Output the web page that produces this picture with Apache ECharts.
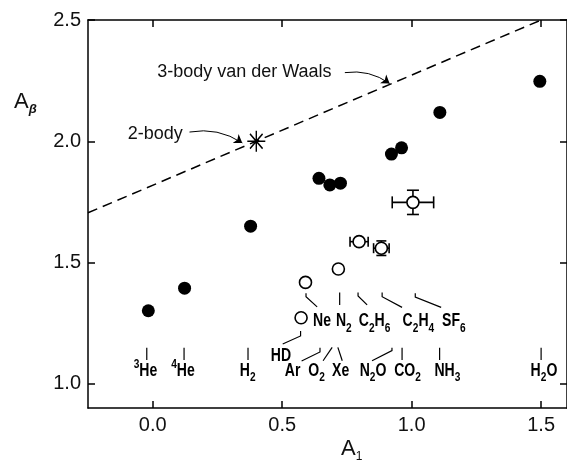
<!DOCTYPE html>
<html>
<head>
<meta charset="utf-8">
<script src="https://cdn.jsdelivr.net/npm/echarts@6/dist/echarts.min.js"></script>
<style>
html, body { margin: 0; padding: 0; background: #fff; }
#chart { width: 567px; height: 460px; }
</style>
</head>
<body>
<div id="chart"></div>
<script>
const xTicks = [0, 0.5, 1.0, 1.5];
const yTicks = [1.0, 1.5, 2.0, 2.5];

// filled points [A1, Abeta]
const filledPts = [
    [-0.017, 1.301], [0.123, 1.394], [0.378, 1.650], [0.642, 1.847], [0.684, 1.820],
    [0.725, 1.827], [0.922, 1.947], [0.961, 1.973], [1.109, 2.119], [1.495, 2.247]
];
// open points
const openPts = [
    [0.573, 1.272], [0.590, 1.418], [0.717, 1.473], [0.797, 1.586], [0.883, 1.559], [1.005, 1.748]
];
// error bars [A1, Abeta, errA1, errAbeta]
const errBars = [
    [0.797, 1.586, 0.035, 0], [0.883, 1.559, 0.03, 0.03], [1.005, 1.748, 0.08, 0.05]
];
const twoBody = [[0.4, 2.0]];
const vdwLine = [[-0.25, 1.705], [1.5, 2.5]];

// molecule labels [text, A1, Abeta]
const molLabels = [
    ['Ne', 0.654, 1.257], ['N{s|2}', 0.738, 1.257], ['C{s|2}H{s|6}', 0.857, 1.257],
    ['C{s|2}H{s|4}', 1.026, 1.257], ['SF{s|6}', 1.163, 1.257],
    ['HD', 0.495, 1.114],
    ['{p|3}He', -0.028, 1.053], ['{p|4}He', 0.117, 1.053], ['H{s|2}', 0.367, 1.053],
    ['Ar', 0.540, 1.053], ['O{s|2}', 0.633, 1.053], ['Xe', 0.726, 1.053],
    ['N{s|2}O', 0.851, 1.053], ['CO{s|2}', 0.984, 1.053], ['NH{s|3}', 1.138, 1.053],
    ['H{s|2}O', 1.511, 1.053]
];
// leader lines from labels
const leaders = [
    [[-0.023, 1.148], [-0.023, 1.098]],
    [[0.121, 1.148], [0.121, 1.098]],
    [[0.368, 1.148], [0.368, 1.098]],
    [[0.963, 1.148], [0.963, 1.098]],
    [[1.108, 1.148], [1.108, 1.098]],
    [[1.500, 1.148], [1.500, 1.098]],
    [[0.924, 1.148], [0.924, 1.137], [0.847, 1.095]],
    [[0.715, 1.150], [0.732, 1.095]],
    [[0.693, 1.150], [0.658, 1.095]],
    [[0.646, 1.148], [0.646, 1.131], [0.575, 1.094]],
    [[0.571, 1.218], [0.571, 1.197], [0.502, 1.164]],
    [[0.592, 1.373], [0.592, 1.359], [0.635, 1.317]],
    [[0.722, 1.376], [0.722, 1.325]],
    [[0.793, 1.376], [0.793, 1.362], [0.828, 1.325]],
    [[0.886, 1.376], [0.886, 1.359], [0.963, 1.315]],
    [[1.014, 1.373], [1.014, 1.357], [1.114, 1.315]]
];
const notes = [['3-body van der Waals', 0.354, 2.286], ['2-body', 0.010, 2.030]];
const arrows = [
    [[0.142, 2.038], [0.346, 1.993]],
    [[0.742, 2.283], [0.915, 2.238]]
];

const chart = echarts.init(document.getElementById('chart'));

const numFont = '"Liberation Sans", Arial, sans-serif';

function xAxisOpt(pos, showLabel) {
    return {
        type: 'value', position: pos, min: -0.25, max: 1.6,
        axisLine: { show: true, onZero: false, lineStyle: { color: '#000', width: 1.5 } },
        axisTick: { show: true, inside: true, length: 7, customValues: xTicks, lineStyle: { color: '#000', width: 1.5 } },
        axisLabel: {
            show: showLabel, customValues: xTicks, margin: 7, fontSize: 20, color: '#111',
            fontFamily: numFont, formatter: v => v.toFixed(1)
        },
        splitLine: { show: false }
    };
}
function yAxisOpt(pos, showLabel) {
    return {
        type: 'value', position: pos, min: 0.9, max: 2.5,
        axisLine: { show: true, onZero: false, lineStyle: { color: '#000', width: 1.5 } },
        axisTick: { show: true, inside: true, length: 7, customValues: yTicks, lineStyle: { color: '#000', width: 1.5 } },
        axisLabel: {
            show: showLabel, customValues: yTicks, margin: 7, fontSize: 20, color: '#111',
            fontFamily: numFont, formatter: v => v.toFixed(1)
        },
        splitLine: { show: false }
    };
}

// chữ nhãn phân tử: nén ngang cho giống font condensed
function renderMolLabel(params, api) {
    const c = api.coord([api.value(0), api.value(1)]);
    return {
        type: 'text', x: c[0], y: c[1], scaleX: 0.78, silent: true,
        style: {
            text: molLabels[params.dataIndex][0],
            fontSize: 18, fontWeight: 'bold', fontFamily: numFont, fill: '#000',
            align: 'center', verticalAlign: 'middle',
            rich: {
                s: { fontSize: 13, fontWeight: 'bold', fontFamily: numFont, fill: '#000', padding: [14, 0, 0, 0] },
                p: { fontSize: 13, fontWeight: 'bold', fontFamily: numFont, fill: '#000', padding: [0, 0, 12, 0] }
            }
        }
    };
}

const option = {
    animation: false,
    backgroundColor: '#fff',
    grid: { left: 88, top: 20, width: 481, height: 388, containLabel: false },
    xAxis: [xAxisOpt('bottom', true), xAxisOpt('top', false)],
    yAxis: [yAxisOpt('left', true), yAxisOpt('right', false)],
    graphic: [
        {
            type: 'text', left: 14, top: 91,
            style: {
                text: 'A{b|β}', fontSize: 22, fontFamily: numFont, fill: '#111',
                rich: { b: { fontSize: 13, fontWeight: 'bold', fontStyle: 'italic', fontFamily: numFont, padding: [14, 0, 0, 0] } }
            }
        },
        {
            type: 'text', left: 341, top: 438,
            style: {
                text: 'A{s|1}', fontSize: 22, fontFamily: numFont, fill: '#111',
                rich: { s: { fontSize: 12, fontFamily: numFont, padding: [16, 0, 0, 0] } }
            }
        }
    ],
    series: [
        {
            type: 'line', data: vdwLine, symbol: 'none', silent: true,
            lineStyle: { color: '#000', width: 1.5, type: [10, 6] }, z: 2
        },
        {
            type: 'lines', coordinateSystem: 'cartesian2d', polyline: true, silent: true,
            data: leaders.map(c => ({ coords: c })),
            lineStyle: { color: '#000', width: 1.2, opacity: 1 }, z: 2
        },
        {
            type: 'lines', coordinateSystem: 'cartesian2d', silent: true,
            symbol: ['none', 'arrow'], symbolSize: 8,
            data: arrows.map(c => ({ coords: c })),
            lineStyle: { color: '#000', width: 1, curveness: 0.2, opacity: 1 }, z: 3
        },
        {
            type: 'custom', data: errBars, silent: true, z: 3,
            renderItem: function (params, api) {
                const x = api.value(0), y = api.value(1), ex = api.value(2), ey = api.value(3);
                const st = { stroke: '#000', lineWidth: 1.6 };
                const kids = [];
                const cap = ex > 0.05 ? 6 : 5;
                if (ex > 0) {
                    const l = api.coord([x - ex, y]), r = api.coord([x + ex, y]);
                    kids.push({ type: 'line', shape: { x1: l[0], y1: l[1], x2: r[0], y2: r[1] }, style: st });
                    kids.push({ type: 'line', shape: { x1: l[0], y1: l[1] - cap, x2: l[0], y2: l[1] + cap }, style: st });
                    kids.push({ type: 'line', shape: { x1: r[0], y1: r[1] - cap, x2: r[0], y2: r[1] + cap }, style: st });
                }
                if (ey > 0) {
                    const t = api.coord([x, y + ey]), b = api.coord([x, y - ey]);
                    kids.push({ type: 'line', shape: { x1: t[0], y1: t[1], x2: b[0], y2: b[1] }, style: st });
                    kids.push({ type: 'line', shape: { x1: t[0] - cap, y1: t[1], x2: t[0] + cap, y2: t[1] }, style: st });
                    kids.push({ type: 'line', shape: { x1: b[0] - cap, y1: b[1], x2: b[0] + cap, y2: b[1] }, style: st });
                }
                return { type: 'group', children: kids };
            }
        },
        {
            type: 'scatter', data: filledPts, symbol: 'circle', symbolSize: 13, silent: true,
            itemStyle: { color: '#000', opacity: 1 }, z: 4
        },
        {
            type: 'scatter', data: openPts, symbol: 'circle', symbolSize: 12, silent: true,
            itemStyle: { color: '#fff', borderColor: '#000', borderWidth: 1.6, opacity: 1 }, z: 5
        },
        {
            type: 'scatter', data: twoBody, silent: true,
            symbol: 'path://M0,-10L0,10M-10,0L10,0M-7,-7L7,7M-7,7L7,-7',
            symbolSize: [18, 21],
            itemStyle: { color: 'none', borderColor: '#000', borderWidth: 1.5, opacity: 1 }, z: 5
        },
        {
            type: 'custom', silent: true, z: 6,
            data: molLabels.map(d => [d[1], d[2]]),
            renderItem: renderMolLabel
        },
        {
            type: 'scatter', silent: true, symbolSize: 1, itemStyle: { color: 'transparent', opacity: 1 }, z: 6,
            data: notes.map(d => ({ name: d[0], value: [d[1], d[2]] })),
            label: {
                show: true, position: 'inside', formatter: p => p.name,
                fontSize: 18, fontFamily: numFont, color: '#111'
            }
        }
    ]
};

chart.setOption(option);
</script>
</body>
</html>
